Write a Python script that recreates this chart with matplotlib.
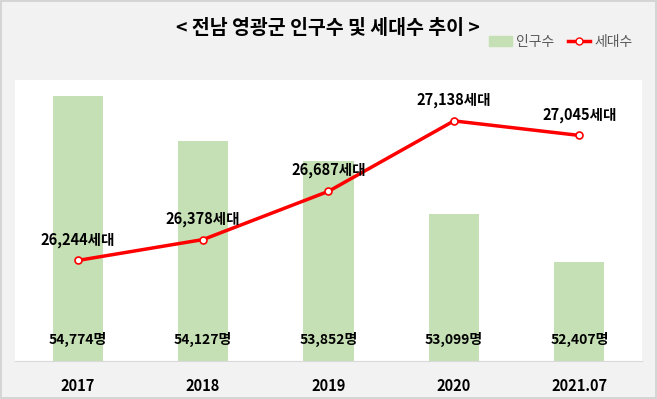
import numpy as np
import matplotlib
matplotlib.use("Agg")
from matplotlib import pyplot as plt
from matplotlib.lines import Line2D
from matplotlib.patches import Patch, Rectangle

plt.rcParams['font.family'] = ['Noto Sans CJK KR', 'DejaVu Sans']

# datos
anios = ["2017", "2018", "2019", "2020", "2021.07"]
poblacion = [54774, 54127, 53852, 53099, 52407]
hogares = [26244, 26378, 26687, 27138, 27045]

verde = "#c5e0b4"
rojo = "#ff0000"
fondo = "#f2f2f2"

fig = plt.figure(figsize=(6.57, 3.99), dpi=100, facecolor=fondo)
fig.patches.append(Rectangle((0.002, 0.003), 0.996, 0.994, transform=fig.transFigure,
                             fill=False, edgecolor="#d0d0d0", linewidth=1.2))

# area del grafico (en pixeles: x 15-642, y 80-361)
ax = fig.add_axes([15/657, 1-361/399, 627/657, 281/399])
ax.set_facecolor("white")
x = np.arange(len(anios))
ax.bar(x, poblacion, width=0.4, color=verde, zorder=1)
ax.set_ylim(51000, 55000)
ax.set_xlim(-0.5, len(anios)-0.5)
ax.set_yticks([])
ax.set_xticks(x)
ax.set_xticklabels(anios, fontsize=10.5, fontweight="bold")
ax.tick_params(axis="x", length=0, pad=12)
for s in ["top", "left", "right"]:
    ax.spines[s].set_visible(False)
ax.spines["bottom"].set_color("#d9d9d9")

for i, v in enumerate(poblacion):
    ax.text(i, 51300, "{:,}명".format(v), ha="center", va="center",
            fontsize=10, fontweight="bold", zorder=5)

ax2 = ax.twinx()
ax2.plot(x, hogares, color=rojo, linewidth=2.5, marker="o", markersize=5,
         markerfacecolor="white", markeredgecolor=rojo, markeredgewidth=1.2, zorder=3)
ax2.set_ylim(25600, 27400)
ax2.set_yticks([])
for s in ["top", "left", "right", "bottom"]:
    ax2.spines[s].set_visible(False)

for i, v in enumerate(hogares):
    ax2.annotate("{:,}세대".format(v), (i, v), xytext=(0, 15), textcoords="offset points",
                 ha="center", va="center", fontsize=10.5, fontweight="bold")

fig.text(328/657, 1-29/399, "< 전남 영광군 인구수 및 세대수 추이 >", ha="center", va="center",
         fontsize=14, fontweight="bold")

handles = [Patch(color=verde), Line2D([], [], color=rojo, linewidth=2.5, marker="o", markersize=5,
                                      markerfacecolor="white", markeredgecolor=rojo)]
fig.legend(handles, ["인구수", "세대수"], loc="center right", bbox_to_anchor=(645/657, 1-42/399),
           ncol=2, frameon=False, fontsize=10, labelcolor="#595959", handlelength=1.6,
           handletextpad=0.3, columnspacing=1.0)

fig.savefig("out.png", dpi=100, facecolor=fondo)
